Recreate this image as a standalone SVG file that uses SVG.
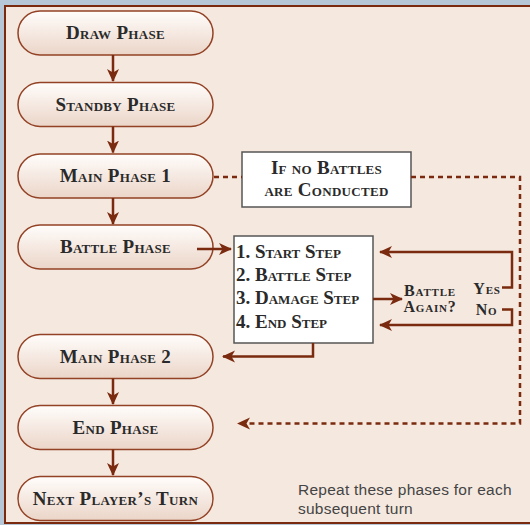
<svg xmlns="http://www.w3.org/2000/svg" width="530" height="525" viewBox="0 0 530 525">
<defs>
<linearGradient id="pg" x1="0" y1="0" x2="0" y2="1">
<stop offset="0" stop-color="#fffdfb"/>
<stop offset="1" stop-color="#ebd5c8"/>
</linearGradient>
<marker id="ah" markerUnits="userSpaceOnUse" markerWidth="14" markerHeight="14" refX="12" refY="6.5" orient="auto">
<path d="M0,0.5 L13,6.5 L0,12.5 L3.5,6.5 Z" fill="#7a2a0e"/>
</marker>
</defs>
<style>
.pill{fill:url(#pg);stroke:#934225;stroke-width:1.5}
.lbl{font-family:"Liberation Serif","Times New Roman",serif;font-weight:bold;font-variant:small-caps;font-size:19px;letter-spacing:0.3px;fill:#2a2a2a;text-anchor:middle}
.box{fill:#ffffff;stroke:#555;stroke-width:1.5}
.step{font-family:"Liberation Serif","Times New Roman",serif;font-weight:bold;font-variant:small-caps;font-size:19px;fill:#2a2a2a}
.q{font-family:"Liberation Serif","Times New Roman",serif;font-weight:bold;font-variant:small-caps;font-size:16px;letter-spacing:0.8px;fill:#2a2a2a}
.c{fill:none;stroke:#7a2a0e;stroke-width:2.5}
.d{fill:none;stroke:#7a2a0e;stroke-width:2.5;stroke-dasharray:5 4}
.note{font-family:"Liberation Sans",Arial,sans-serif;font-size:15.5px;letter-spacing:0.25px;fill:#444}
</style>
<rect x="0" y="0" width="530" height="525" fill="#b6c7d8"/>
<rect x="5" y="6" width="540" height="517" fill="#f5e8df" stroke="#7a2a0e" stroke-width="2"/>

<g id="draw"><rect class="pill" x="18" y="11" width="195" height="44" rx="22"/><text class="lbl" x="115.5" y="39">Draw Phase</text></g>
<g id="standby"><rect class="pill" x="18" y="82.5" width="195" height="44" rx="22"/><text class="lbl" x="115.5" y="110.5">Standby Phase</text></g>
<g id="main1"><rect class="pill" x="18" y="154" width="195" height="44" rx="22"/><text class="lbl" x="115.5" y="182">Main Phase 1</text></g>
<g id="battle"><rect class="pill" x="18" y="225" width="195" height="44" rx="22"/><text class="lbl" x="115.5" y="253">Battle Phase</text></g>
<g id="main2"><rect class="pill" x="18" y="334.5" width="195" height="44" rx="22"/><text class="lbl" x="115.5" y="362.5">Main Phase 2</text></g>
<g id="end"><rect class="pill" x="18" y="405.5" width="195" height="44" rx="22"/><text class="lbl" x="115.5" y="433.5">End Phase</text></g>
<g id="next"><rect class="pill" x="18" y="476.5" width="195" height="44" rx="22"/><text class="lbl" x="115.5" y="504.5">Next Player’s Turn</text></g>

<g id="nobattle"><rect class="box" x="242" y="152" width="169" height="55"/><text class="lbl" x="326.5" y="173.5">If no Battles</text><text class="lbl" x="326.5" y="196">are Conducted</text></g>

<g id="steps"><rect class="box" x="234" y="236" width="139" height="107"/>
<text class="step" x="236" y="257.5">1. Start Step</text>
<text class="step" x="236" y="281">2. Battle Step</text>
<text class="step" x="236" y="304">3. Damage Step</text>
<text class="step" x="236" y="327.5">4. End Step</text></g>

<g id="again"><text class="q" x="430" y="296" text-anchor="middle">Battle</text><text class="q" x="430" y="312" text-anchor="middle">Again?</text></g>
<g id="yes"><text class="q" x="487" y="294" text-anchor="middle">Yes</text></g>
<g id="no"><text class="q" x="486.5" y="314.5" text-anchor="middle">No</text></g>

<g id="connectors">
<path class="c" d="M113,55 V81" marker-end="url(#ah)"/>
<path class="c" d="M113,126.5 V152.5" marker-end="url(#ah)"/>
<path class="c" d="M113,198 V224" marker-end="url(#ah)"/>
<path class="c" d="M113,378.5 V404" marker-end="url(#ah)"/>
<path class="c" d="M113,449.5 V475" marker-end="url(#ah)"/>
<path class="c" d="M197,249 H231" marker-end="url(#ah)"/>
<path class="c" d="M373,299 H402" marker-end="url(#ah)"/>
<path class="c" d="M502,287.5 H512 V252 H380" marker-end="url(#ah)"/>
<path class="c" d="M502,309.5 H512 V325 H380" marker-end="url(#ah)"/>
<path class="c" d="M313,343 V356.5 H223" marker-end="url(#ah)"/>
<path class="d" d="M214,177 H242"/>
<path class="d" d="M411,177 H520 V423.5 H238" marker-end="url(#ah)"/>
</g>

<g id="footnote"><text class="note" x="298" y="495">Repeat these phases for each</text><text class="note" x="298" y="513.5">subsequent turn</text></g>
</svg>
